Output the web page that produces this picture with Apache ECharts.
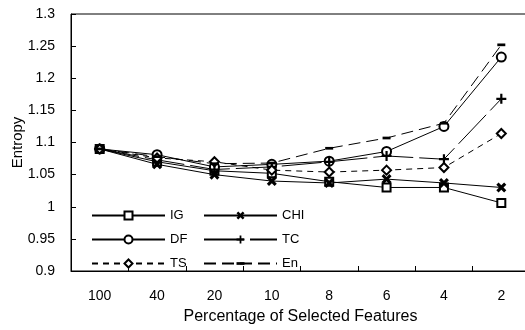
<!DOCTYPE html>
<html>
<head>
<meta charset="utf-8">
<script src="https://cdn.jsdelivr.net/npm/echarts@6/dist/echarts.min.js"></script>
<style>
  html, body { margin: 0; padding: 0; background: #fff; }
  #chart { width: 525px; height: 330px; }
</style>
</head>
<body>
<div id="chart"></div>
<script>
// Percentage of selected features (x categories)
const categories = ["100", "40", "20", "10", "8", "6", "4", "2"];

// Entropy per method
const igValues  = [1.090, 1.070, 1.056, 1.052, 1.039, 1.030, 1.030, 1.006];
const chiValues = [1.090, 1.066, 1.050, 1.040, 1.037, 1.043, 1.037, 1.030];
const dfValues  = [1.090, 1.081, 1.062, 1.066, 1.071, 1.086, 1.125, 1.233];
const tcValues  = [1.090, 1.073, 1.058, 1.062, 1.070, 1.079, 1.074, 1.168];
const tsValues  = [1.090, 1.076, 1.070, 1.057, 1.054, 1.057, 1.061, 1.114];
const enValues  = [1.090, 1.078, 1.067, 1.068, 1.091, 1.107, 1.130, 1.252];

const FONT = "Liberation Sans, Arial, Helvetica, sans-serif";

// custom marker shapes (filled outlines)
const CROSS_X = "path://M0,2.2L2.2,0L5,2.8L7.8,0L10,2.2L7.2,5L10,7.8L7.8,10L5,7.2L2.2,10L0,7.8L2.8,5Z";
const PLUS = "path://M3.9,0h2.2v3.9h3.9v2.2h-3.9v3.9h-2.2v-3.9h-3.9v-2.2h3.9Z";
const BAR = "path://M0,0M10,10M0,3.3h10v3.4h-10Z";

const hollow = { color: "#fff", borderColor: "#000", borderWidth: 2 };
const solid = { color: "#000", borderWidth: 0 };

function makeSeries(name, data, symbol, size, itemStyle, lineType) {
  return {
    name,
    type: "line",
    data,
    symbol,
    symbolSize: size,
    showAllSymbol: true,
    itemStyle,
    lineStyle: { color: "#000", width: 1, type: lineType },
    emphasis: { disabled: true },
  };
}

const chart = echarts.init(document.getElementById("chart"));

chart.setOption({
  animation: false,
  backgroundColor: "#fff",
  textStyle: { fontFamily: FONT, color: "#000" },
  grid: {
    left: 71,
    right: -5,
    top: 14,
    bottom: 59,
    containLabel: false,
    outerBoundsMode: "none",
    show: true,
    borderColor: "#000",
    borderWidth: 1,
  },
  legend: [
    {
      data: ["IG", "DF", "TS"],
      orient: "vertical",
      left: 91,
      top: 209,
      padding: 0,
      itemWidth: 73,
      itemHeight: 10,
      itemGap: 11,
      textStyle: { fontFamily: FONT, fontSize: 13, color: "#000" },
    },
    {
      data: ["CHI", "TC", "En"],
      orient: "vertical",
      left: 203,
      top: 209,
      padding: 0,
      itemWidth: 73,
      itemHeight: 10,
      itemGap: 11,
      textStyle: { fontFamily: FONT, fontSize: 13, color: "#000" },
    },
  ],
  xAxis: {
    type: "category",
    data: categories,
    boundaryGap: true,
    name: "Percentage of Selected Features",
    nameLocation: "middle",
    nameGap: 38,
    nameMoveOverlap: false,
    nameTextStyle: { fontFamily: FONT, fontSize: 16, color: "#000" },
    axisLine: { show: true, lineStyle: { color: "#000", width: 1 } },
    axisTick: { show: true, inside: true, length: 5, interval: 0, lineStyle: { color: "#000" } },
    axisLabel: { fontFamily: FONT, fontSize: 14, color: "#000", margin: 18 },
    splitLine: { show: false },
  },
  yAxis: {
    type: "value",
    min: 0.9,
    max: 1.3,
    interval: 0.05,
    name: "Entropy",
    nameLocation: "middle",
    nameGap: 46,
    nameMoveOverlap: false,
    nameTextStyle: { fontFamily: FONT, fontSize: 15, color: "#000" },
    axisLine: { show: true, lineStyle: { color: "#000", width: 1 } },
    axisTick: { show: true, inside: true, length: 5, lineStyle: { color: "#000" } },
    axisLabel: { fontFamily: FONT, fontSize: 14, color: "#000", margin: 16 },
    splitLine: { show: false },
  },
  series: [
    makeSeries("IG", igValues, "rect", 8, hollow, "solid"),
    makeSeries("CHI", chiValues, CROSS_X, 10, solid, "solid"),
    makeSeries("DF", dfValues, "circle", 9, hollow, "solid"),
    makeSeries("TC", tcValues, PLUS, 10, solid, [40, 6]),
    makeSeries("TS", tsValues, "diamond", 9, hollow, [6, 5]),
    makeSeries("En", enValues, BAR, 8, solid, [12, 6]),
  ],
});
</script>
</body>
</html>
